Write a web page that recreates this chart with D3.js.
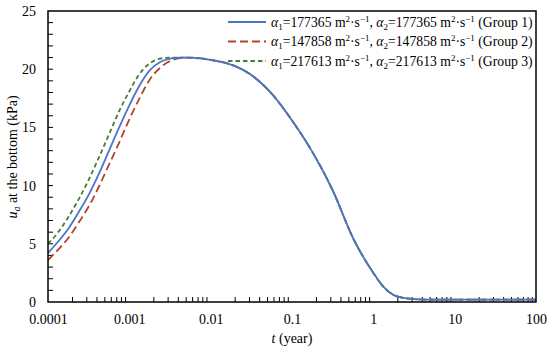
<!DOCTYPE html>
<html><head><meta charset="utf-8">
<script src="https://cdn.jsdelivr.net/npm/d3@7"></script>
<style>body{margin:0;background:#fff}svg{display:block}text{font-family:"Liberation Serif","DejaVu Serif",serif;fill:#000}</style>
</head><body><svg id="c" width="550" height="349"></svg>
<script>
// log10(t in years) sample positions and values (kPa)
const logT = [-4,-3.875,-3.75,-3.625,-3.5,-3.375,-3.25,-3.125,-3,-2.875,-2.75,-2.625,-2.5,-2.375,-2.25,-2,-1.75,-1.5,-1.25,-1,-0.75,-0.5,-0.25,0,0.125,0.25,0.375,0.5,0.75,1,1.5,2];
const group1 = [4.2,5.2,6.3,7.7,9.2,11.0,13.0,15.0,16.9,18.6,19.9,20.6,20.9,21.0,21.0,20.8,20.4,19.5,17.9,15.6,12.9,9.6,5.5,2.5,1.3,0.6,0.35,0.25,0.2,0.2,0.2,0.2];
const group2 = [3.6,4.5,5.5,6.8,8.2,9.9,11.8,13.7,15.7,17.5,19.1,20.1,20.7,20.95,21.0,20.8,20.4,19.5,17.9,15.6,12.9,9.6,5.5,2.5,1.3,0.6,0.35,0.25,0.2,0.2,0.2,0.2];
const group3 = [5.0,6.0,7.3,8.8,10.5,12.4,14.4,16.4,18.1,19.6,20.5,20.9,21.0,21.0,20.98,20.8,20.4,19.5,17.9,15.6,12.9,9.6,5.5,2.5,1.3,0.6,0.35,0.25,0.2,0.2,0.2,0.2];
const alphaValues = ["177365","147858","217613"];
const groupNames = ["Group 1","Group 2","Group 3"];
const xTickLabels = ["0.0001","0.001","0.01","0.1","1","10","100"];
const yTickValues = [0,5,10,15,20,25];

const svg = d3.select("#c");
const m = {l:48, r:536, t:11, b:302};
const x = d3.scaleLog().domain([1e-4,100]).range([m.l,m.r]);
const y = d3.scaleLinear().domain([0,25]).range([m.b,m.t]);

// minor ticks
const g = svg.append("g");
const xMinor = [];
for (let e=-4;e<2;e++) for (let k=2;k<=9;k++) xMinor.push(k*Math.pow(10,e));
g.selectAll(".xm").data(xMinor).join("line").attr("x1",d=>x(d)).attr("x2",d=>x(d)).attr("y1",m.b).attr("y2",m.b-5).attr("stroke","#000").attr("stroke-width",1);
g.selectAll(".ym").data(d3.range(1,25)).join("line").attr("x1",m.l).attr("x2",m.l+5).attr("y1",d=>y(d)).attr("y2",d=>y(d)).attr("stroke","#000").attr("stroke-width",1);

// curves
const styles = [
  {data:group1,color:"#4a76c6",dash:null,w:1.8},
  {data:group2,color:"#b0452a",dash:"8,4",w:1.8},
  {data:group3,color:"#4c7a3a",dash:"4.5,3",w:1.8}
];
const line = d3.line().x((d,i)=>x(Math.pow(10,logT[i]))).y(d=>y(d)).curve(d3.curveMonotoneX);
[styles[1],styles[2],styles[0]].forEach(s=>{
  svg.append("path").attr("d",line(s.data)).attr("fill","none").attr("stroke",s.color).attr("stroke-width",s.w).attr("stroke-dasharray",s.dash);
});

// frame
svg.append("rect").attr("x",m.l).attr("y",m.t).attr("width",m.r-m.l).attr("height",m.b-m.t).attr("fill","none").attr("stroke","#000").attr("stroke-width",1.5);

// axes labels
const xAxis = d3.axisBottom(x).tickValues(xTickLabels.map(Number)).tickFormat((d,i)=>xTickLabels[i]).tickSize(0).tickPadding(12);
const xa = svg.append("g").attr("transform",`translate(0,${m.b})`).call(xAxis);
xa.select(".domain").remove();
xa.selectAll("text").attr("font-size",14).attr("font-family","Liberation Serif");
const yAxis = d3.axisLeft(y).tickValues(yTickValues).tickSize(0).tickPadding(12);
const ya = svg.append("g").attr("transform",`translate(${m.l},0)`).call(yAxis);
ya.select(".domain").remove();
ya.selectAll("text").attr("font-size",14).attr("font-family","Liberation Serif");

// x title
const xt = svg.append("text").attr("x",292).attr("y",343).attr("text-anchor","middle").attr("font-size",14);
xt.append("tspan").attr("font-style","italic").text("t");
xt.append("tspan").text(" (year)");
// y title
const yt = svg.append("text").attr("transform","translate(17,157) rotate(-90)").attr("text-anchor","middle").attr("font-size",14);
yt.append("tspan").attr("font-style","italic").text("u");
yt.append("tspan").attr("font-style","italic").attr("font-size",10).attr("dy",3).text("a");
yt.append("tspan").attr("dy",-3).text(" at the bottom (kPa)");

// legend
const lg = svg.append("g");
[0,1,2].forEach(i=>{
  const yy = 22 + i*19.5;
  const s = styles[i];
  lg.append("line").attr("x1",228).attr("x2",266).attr("y1",yy).attr("y2",yy).attr("stroke",s.color).attr("stroke-width",s.w).attr("stroke-dasharray",s.dash);
  const t = lg.append("text").attr("x",271).attr("y",yy+4.5).attr("font-size",13.7);
  t.append("tspan").attr("font-style","italic").text("α");
  t.append("tspan").attr("font-size",9).attr("dy",3).text("1");
  t.append("tspan").attr("dy",-3).text("="+alphaValues[i]+" m");
  t.append("tspan").attr("font-size",9).attr("dy",-5).text("2");
  t.append("tspan").attr("dy",5).text("·s");
  t.append("tspan").attr("font-size",9).attr("dy",-5).text("−1");
  t.append("tspan").attr("dy",5).text(", ");
  t.append("tspan").attr("font-style","italic").text("α");
  t.append("tspan").attr("font-size",9).attr("dy",3).text("2");
  t.append("tspan").attr("dy",-3).text("="+alphaValues[i]+" m");
  t.append("tspan").attr("font-size",9).attr("dy",-5).text("2");
  t.append("tspan").attr("dy",5).text("·s");
  t.append("tspan").attr("font-size",9).attr("dy",-5).text("−1");
  t.append("tspan").attr("dy",5).text(" ("+groupNames[i]+")");
});
</script></body></html>
